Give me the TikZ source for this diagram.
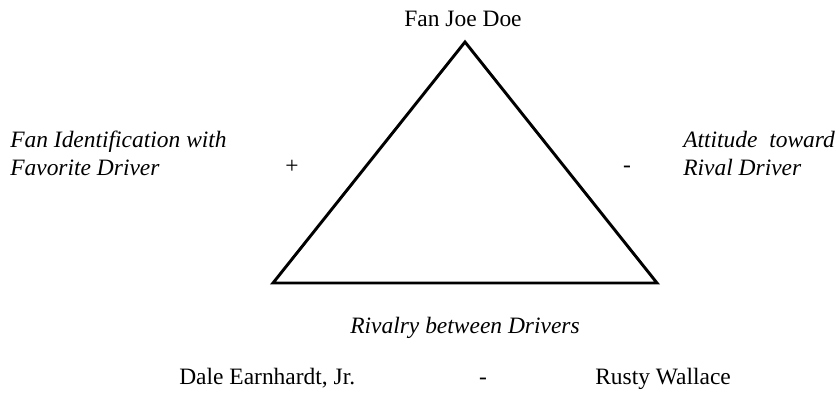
\documentclass[tikz,border=0pt]{standalone}
\usepackage{fontspec}
\setmainfont{Liberation Serif}
\usetikzlibrary{positioning}
\begin{document}
\begin{tikzpicture}[x=0.75pt, y=0.75pt, font=\fontsize{17.6}{21}\selectfont,
    lbl/.style={inner sep=0pt, align=left},
    itlbl/.style={lbl, font=\fontsize{17.6}{21}\selectfont\itshape}]
    \useasboundingbox (0,0) rectangle (839,394);
    % corners of the triangle
    \coordinate (fan) at (465,352);
    \coordinate (dale) at (273,111);
    \coordinate (rusty) at (657,111);
    \draw[line width=2.2pt, line join=miter] (fan) -- (dale) -- (rusty) -- cycle;

    \node[lbl, anchor=base] (fanlbl) at (463,368) {Fan Joe Doe};
    % base = baseline of the last line
    \node[itlbl, anchor=base west] (ident) at (10,219)
          {Fan Identification with\\Favorite Driver};
    \node[lbl] (plus) at (292,227) {+};
    \node[itlbl, anchor=base west] (attit) at (683,219)
          {Attitude\ \ toward\\Rival Driver};
    \node[lbl] (minus) at (627,225) {-};
    \node[itlbl, anchor=base] (rivalry) at (465,61) {Rivalry between Drivers};

    \node[lbl, anchor=base west] (daleearn) at (179,10) {Dale Earnhardt, Jr.};
    \node[lbl, anchor=base] (vs) at (483,10) {-};
    \node[lbl, anchor=base west] (rustyw) at (595,10) {Rusty Wallace};
  \end{tikzpicture}
\end{document}
